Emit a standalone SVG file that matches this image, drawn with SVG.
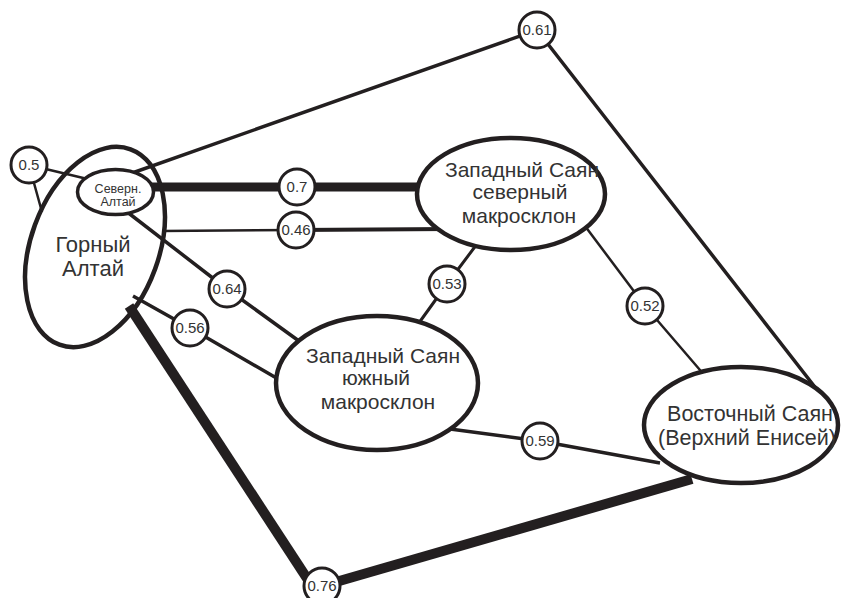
<svg xmlns="http://www.w3.org/2000/svg" width="842" height="598" viewBox="0 0 842 598">
<style>
.ln{fill:none;stroke:#231f20;stroke-linecap:butt;stroke-linejoin:round}
.nd{fill:#fff;stroke:#231f20}
.lb{fill:#fff;stroke:#231f20;stroke-width:3}
.t{font-family:"Liberation Sans",Arial,sans-serif;fill:#333;text-anchor:middle}
.big{font-size:22px}
.mid{font-size:21px}
.vs{font-size:21.5px}
.sm{font-size:12.5px}
.lt{font-size:15px}
</style>
<g id="connectors">
<polyline class="ln" style="stroke-width:2.5" points="42,212 29,165 100,182"/>
<polyline class="ln" style="stroke-width:3.5" points="118,178 537,30 825,400"/>
<line class="ln" style="stroke-width:9" x1="150" y1="187" x2="425" y2="187"/>
<line class="ln" style="stroke-width:2.5" x1="162" y1="231" x2="296" y2="230"/>
<line class="ln" style="stroke-width:4" x1="296" y1="230" x2="450" y2="229"/>
<polyline class="ln" style="stroke-width:3.5" points="122,208 227,289 310,349"/>
<polyline class="ln" style="stroke-width:3.5" points="133,296 190,328 285,383"/>
<polyline class="ln" style="stroke-width:3" points="416,327 447,284 480,240"/>
<polyline class="ln" style="stroke-width:2.5" points="585,226 645,306 706,377"/>
<polyline class="ln" style="stroke-width:3.5" points="435,427 540,441 660,463"/>
<polyline class="ln" style="stroke-width:10" points="129,306 312,586"/>
<polyline class="ln" style="stroke-width:10" points="322,586 692,479"/>
</g>
<g id="node-gorny-altai">
<ellipse cx="95" cy="247" rx="64" ry="104" transform="rotate(20 95 247)" style="fill:none;stroke:#231f20;stroke-width:4.5"/>
<text class="t big" x="93" y="252">Горный</text>
<text class="t big" x="93" y="276">Алтай</text>
</g>
<g id="node-severn-altai">
<ellipse class="nd" cx="115.5" cy="192" rx="38" ry="22.5" style="stroke-width:3.5"/>
<text class="t sm" x="118" y="193">Северн.</text>
<text class="t sm" x="118" y="206">Алтай</text>
</g>
<g id="node-zs-north">
<ellipse class="nd" cx="511" cy="194" rx="94" ry="56" style="stroke-width:4.5"/>
<text class="t mid" x="522" y="177">Западный Саян</text>
<text class="t mid" x="520" y="199">северный</text>
<text class="t mid" x="519" y="223">макросклон</text>
</g>
<g id="node-zs-south">
<ellipse class="nd" cx="377" cy="383" rx="101" ry="67" style="stroke-width:4.5"/>
<text class="t mid" x="383" y="363">Западный Саян</text>
<text class="t mid" x="376" y="385">южный</text>
<text class="t mid" x="378" y="409">макросклон</text>
</g>
<g id="node-vs">
<ellipse class="nd" cx="741" cy="425" rx="97" ry="58" style="stroke-width:4.5"/>
<text class="t vs" x="750" y="421">Восточный Саян</text>
<text class="t vs" x="747" y="445">(Верхний Енисей)</text>
</g>
<g id="edge-labels">
<circle class="lb" cx="29" cy="165" r="18"/><text class="t lt" x="29" y="170">0.5</text>
<circle class="lb" cx="537" cy="30" r="18"/><text class="t lt" x="537" y="35">0.61</text>
<circle class="lb" cx="297" cy="187" r="18"/><text class="t lt" x="297" y="192">0.7</text>
<circle class="lb" cx="296" cy="230" r="18"/><text class="t lt" x="296" y="235">0.46</text>
<circle class="lb" cx="227" cy="289" r="18"/><text class="t lt" x="227" y="294">0.64</text>
<circle class="lb" cx="190" cy="328" r="18"/><text class="t lt" x="190" y="333">0.56</text>
<circle class="lb" cx="447" cy="284" r="18"/><text class="t lt" x="447" y="289">0.53</text>
<circle class="lb" cx="645" cy="306" r="18"/><text class="t lt" x="645" y="311">0.52</text>
<circle class="lb" cx="540" cy="441" r="18"/><text class="t lt" x="540" y="446">0.59</text>
<circle class="lb" cx="322" cy="586" r="18"/><text class="t lt" x="322" y="591">0.76</text>
</g>
</svg>
